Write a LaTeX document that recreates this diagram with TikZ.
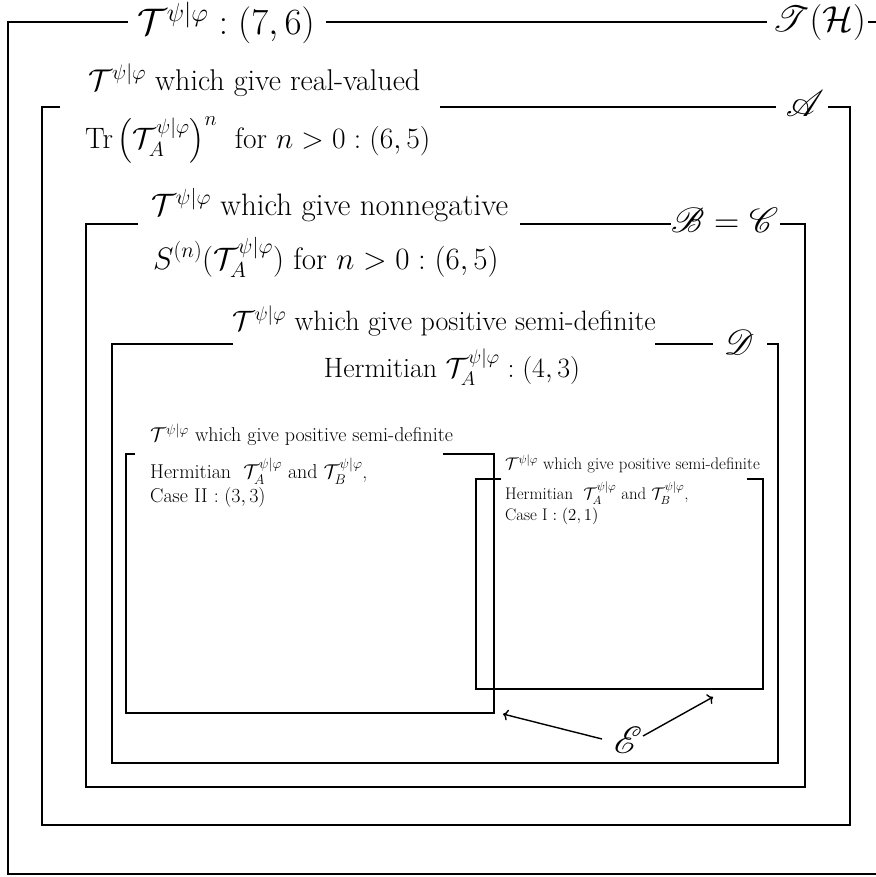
\RequirePackage{fix-cm}
\documentclass[tikz,border=0pt]{standalone}
\usepackage{amsmath}
\usepackage{mathrsfs}
\DeclareFontFamily{U}{rsfs}{\skewchar\font127 }
\DeclareFontShape{U}{rsfs}{m}{n}{<-6>rsfs5<6-8>rsfs7<8->rsfs10}{}
\usetikzlibrary{arrows.meta,calc}
\newcommand{\fs}[1]{\fontsize{#1}{#1}\selectfont}
\newcommand{\Tpf}{\mathcal{T}^{\psi|\varphi}}
\newcommand{\TpfA}{\mathcal{T}_A^{\psi|\varphi}}
\newcommand{\TpfB}{\mathcal{T}_B^{\psi|\varphi}}
\begin{document}
\begin{tikzpicture}[x=1pt,y=-1pt,
  box/.style={line width=1.6pt},
  lbl/.style={inner sep=0pt, anchor=west},
  mid/.style={inner sep=0pt},
  arr/.style={line width=1.4pt, -{To[length=5pt,width=11pt]}}]
\useasboundingbox (0,0) rectangle (875,877);
% outer
\node[lbl,font=\fs{37}] (t0) at (137,23) {$\Tpf : (7,6)$};
\node[lbl,font=\fs{36}] (h0) at (772,23) {$\mathscr{T}(\mathcal{H})$};
\draw[box] (128,22) -- (8,22) -- (8,874) -- (885,874) -- (885,22) -- (868,22);
\draw[box] (326,22) -- (767,22);
% A
\node[lbl,font=\fs{30}] (a1) at (88,80) {$\Tpf$ which give real-valued};
\node[lbl,font=\fs{29.5}] (a2) at (85,140) {$\mathrm{Tr}\left(\TpfA\right)^n$\ \ for $n>0:(6,5)$};
\node[mid,font=\fs{37}] (aL) at (805,104) {$\mathscr{A}$};
\draw[box] (60,107) -- (42,107) -- (42,825) -- (850,825) -- (850,107) -- (828,107);
\draw[box] (440,107) -- (776,107);
% B = C
\node[lbl,font=\fs{35}] (bL) at (671,220) {$\mathscr{B}=\mathscr{C}$};
\node[lbl,font=\fs{31}] (b1) at (151,205) {$\Tpf$ which give nonnegative};
\node[lbl,font=\fs{31}] (b2) at (153,257) {$S^{(n)}(\TpfA)$ for $n>0:(6,5)$};
\draw[box] (138,224) -- (86,224) -- (86,787) -- (805,787) -- (805,224) -- (780,224);
\draw[box] (520,224) -- (671,224);
% D
\node[mid,font=\fs{28}] (d1) at (444,321) {$\Tpf$ which give positive semi-definite};
\node[mid,font=\fs{28}] (d2) at (452,367) {Hermitian $\TpfA:(4,3)$};
\node[mid,font=\fs{35}] (dL) at (739,342) {$\mathscr{D}$};
\draw[box] (233,344) -- (112,344) -- (112,763) -- (778,763) -- (778,344) -- (767,344);
\draw[box] (655,344) -- (713,344);
% Case II
\node[lbl,font=\fs{20}] (c1) at (150,435) {$\Tpf$ which give positive semi-definite};
\node[lbl,font=\fs{20}] (c2) at (150,471) {Hermitian\ \ $\TpfA$ and $\TpfB$,};
\node[lbl,font=\fs{20}] (c3) at (150,497) {Case II $:(3,3)$};
\draw[box] (135,454) -- (126,454) -- (126,713) -- (494,713) -- (494,454) -- (443,454);
% Case I
\node[lbl,font=\fs{16.8}] (e1) at (505,464) {$\Tpf$ which give positive semi-definite};
\node[lbl,font=\fs{16.8}] (e2) at (505,493) {Hermitian\ \ $\TpfA$ and $\TpfB$,};
\node[lbl,font=\fs{16.8}] (e3) at (505,516) {Case I $:(2,1)$};
\draw[box] (501,479) -- (476,479) -- (476,689) -- (763,689) -- (763,479) -- (747,479);
% E arrows
\node[mid,font=\fs{38}] (E) at (628,740) {$\mathscr{E}$};
\coordinate (p1) at (503,714);
\coordinate (p2) at (713,697);
\draw[arr] ($(E)+(-26,-1)$) -- (p1);
\draw[arr] ($(E)+(15,-4)$) -- (p2);
\end{tikzpicture}
\end{document}
